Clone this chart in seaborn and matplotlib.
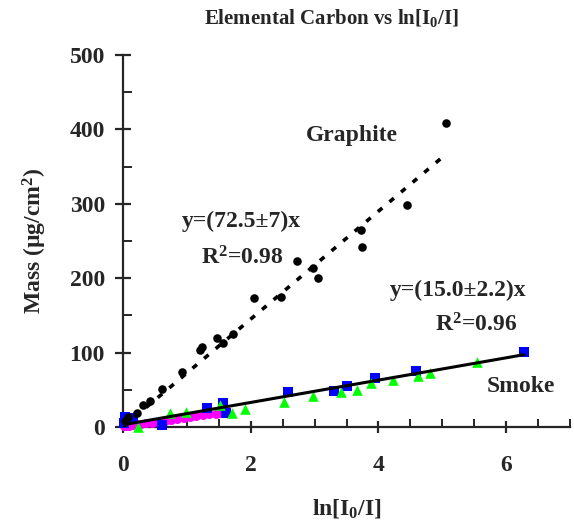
import matplotlib
matplotlib.use("Agg")
import matplotlib.pyplot as plt
import seaborn as sns
from matplotlib.ticker import MultipleLocator

# Graphite samples (black circles)
graphite_x = [0.03, 0.08, 0.22, 0.31, 0.42, 0.61, 0.92, 1.20, 1.23, 1.47, 1.56,
              1.72, 2.05, 2.47, 2.73, 2.97, 3.05, 3.72, 3.75, 4.44, 5.06]
graphite_y = [8, 13, 19, 30, 35, 51, 74, 103, 107, 120, 113,
              125, 173, 175, 223, 214, 200, 265, 242, 298, 409]

# Smoke samples, set 1 (blue squares)
smoke_sq_x = [0.02, 0.03, 0.16, 0.61, 1.31, 1.56, 1.62, 2.58, 3.31, 3.50, 3.95, 4.59, 6.28]
smoke_sq_y = [5, 13, 12, 3, 26, 32, 19, 47, 48, 55, 66, 75, 101]

# Smoke samples, set 2 (green triangles)
smoke_tri_x = [0.23, 0.73, 0.98, 1.52, 1.70, 1.91, 2.52, 2.98, 3.41, 3.66,
               3.89, 4.23, 4.62, 4.81, 5.55]
smoke_tri_y = [0, 19, 20, 30, 19, 24, 34, 42, 47, 50, 59, 63, 68, 72, 88]

# Smoke samples, set 3 (magenta, dense near the origin)
smoke_mag_x = [0.02, 0.05, 0.10, 0.15, 0.20, 0.28, 0.36, 0.45, 0.55, 0.65,
               0.75, 0.85, 0.95, 1.05, 1.15, 1.25, 1.35, 1.45, 1.52]
smoke_mag_y = [1, 2, 2, 3, 4, 4, 5, 6, 7, 8, 10, 11, 12, 13, 15, 16, 17, 18, 19]

# fitted lines
graphite_slope = 72.5
graphite_fit_x = [0, 5.0]
smoke_slope = 15.0
smoke_offset = 3.0
smoke_fit_x = [0, 6.28]

sns.set_style("ticks")
plt.rcParams["font.family"] = ["Liberation Serif", "DejaVu Serif"]
plt.rcParams["font.weight"] = "bold"
plt.rcParams["mathtext.fontset"] = "custom"
plt.rcParams["mathtext.rm"] = "Liberation Serif:bold"
plt.rcParams["mathtext.it"] = "Liberation Serif:bold"
plt.rcParams["mathtext.bf"] = "Liberation Serif:bold"

fig = plt.figure(figsize=(5.74, 5.21), dpi=100)
ax = fig.add_axes([123 / 574, (521 - 427) / 521, 447 / 574, 372 / 521])

sns.scatterplot(x=smoke_mag_x, y=smoke_mag_y, ax=ax, color="#ff00ff", marker="o",
                s=42, linewidth=0, clip_on=False, zorder=3)
sns.scatterplot(x=smoke_sq_x, y=smoke_sq_y, ax=ax, color="#0000ff", marker="s",
                s=42, linewidth=0, clip_on=False, zorder=3)
sns.scatterplot(x=smoke_tri_x, y=smoke_tri_y, ax=ax, color="#00ff00", marker="^",
                s=58, linewidth=0, clip_on=False, zorder=3)
sns.scatterplot(x=graphite_x, y=graphite_y, ax=ax, color="black", marker="o",
                s=38, linewidth=0, clip_on=False, zorder=4)

ax.plot(graphite_fit_x, [graphite_slope * v for v in graphite_fit_x],
        color="black", lw=2.6, linestyle=(0, (1.6, 2.6)), zorder=5)
ax.plot(smoke_fit_x, [smoke_slope * v + smoke_offset for v in smoke_fit_x],
        color="black", lw=2.2, zorder=5)

ax.set_xlim(0, 7)
ax.set_ylim(0, 500)
ax.xaxis.set_major_locator(MultipleLocator(2))
ax.xaxis.set_minor_locator(MultipleLocator(0.5))
ax.yaxis.set_major_locator(MultipleLocator(100))
ax.yaxis.set_minor_locator(MultipleLocator(50))
sns.despine(ax=ax)
for side in ["left", "bottom"]:
    ax.spines[side].set_linewidth(1.6)
ax.tick_params(axis="x", which="major", direction="inout", length=9, width=1.6,
               pad=16, labelsize=17)
ax.tick_params(axis="x", which="minor", direction="in", length=6, width=1.4)
ax.tick_params(axis="y", which="major", direction="inout", length=12, width=1.6,
               pad=7, labelsize=17)
ax.tick_params(axis="y", which="minor", direction="in", length=6.5, width=1.4)
for lab in ax.get_xticklabels() + ax.get_yticklabels():
    lab.set_fontweight("bold")

ax.set_xlabel("ln[I$_0$/I]", fontsize=17, fontweight="bold", labelpad=15)
ax.set_ylabel("Mass (µg/cm$^2$)", fontsize=17, fontweight="bold", labelpad=15)

fig.text(331 / 574, 1 - 18 / 521, "Elemental Carbon vs ln[I$_0$/I]",
         ha="center", va="center", fontsize=15, fontweight="bold")

ax.text(1.86, 276, "y=(72.5±7)x", ha="center", va="center", fontsize=17, fontweight="bold")
ax.text(1.86, 227, "R$^2$=0.98", ha="center", va="center", fontsize=17, fontweight="bold")
ax.text(3.58, 392, "Graphite", ha="center", va="center", fontsize=17, fontweight="bold")
ax.text(5.25, 183, "y=(15.0±2.2)x", ha="center", va="center", fontsize=17, fontweight="bold")
ax.text(5.53, 137, "R$^2$=0.96", ha="center", va="center", fontsize=17, fontweight="bold")
ax.text(6.23, 54, "Smoke", ha="center", va="center", fontsize=17, fontweight="bold")

fig.savefig("out.png", dpi=100)
